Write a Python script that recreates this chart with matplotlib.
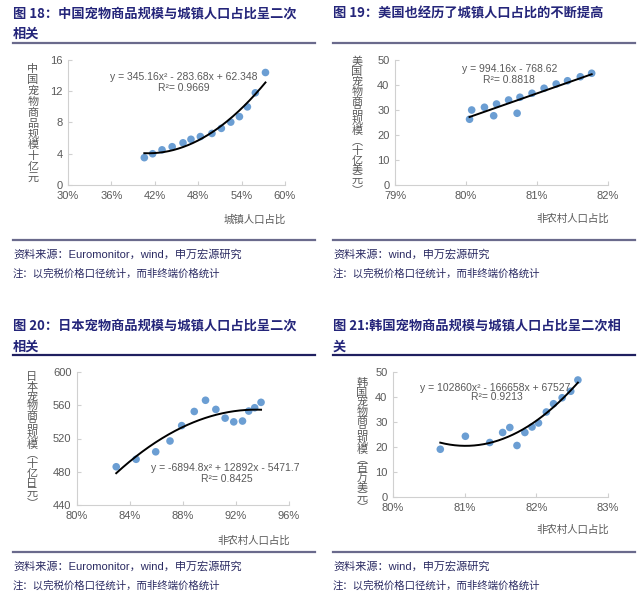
import numpy as np
import matplotlib
matplotlib.use("Agg")
import matplotlib.pyplot as plt

plt.rcParams["font.family"] = ["Liberation Sans", "Noto Sans CJK SC", "DejaVu Sans"]

# ---- data ----
cn_x = [40.55, 41.7, 43.0, 44.4, 45.9, 47.0, 48.3, 49.9, 51.2, 52.5, 53.7, 54.8, 55.9, 57.3]
cn_y = [3.5, 4.0, 4.5, 4.9, 5.4, 5.85, 6.2, 6.6, 7.25, 8.05, 8.75, 10.0, 11.8, 14.4]
cn_coef = [345.16, -283.68, 62.348]

us_x = [80.05, 80.08, 80.26, 80.39, 80.43, 80.60, 80.72, 80.76, 80.93, 81.10, 81.27, 81.43, 81.61, 81.77]
us_y = [26.3, 30.0, 31.1, 27.7, 32.4, 34.0, 28.7, 35.1, 36.7, 38.7, 40.4, 41.7, 43.3, 44.7]
us_coef = [994.16, -768.62]

jp_x = [82.96, 84.46, 85.94, 87.02, 87.9, 88.85, 89.70, 90.48, 91.18, 91.83, 92.49, 92.96, 93.41, 93.89]
jp_y = [486, 495, 504, 517, 535.5, 552.5, 566, 555, 544.5, 540, 541, 553, 557, 563.5]
jp_coef = [-6894.8, 12892, -5471.7]

kr_x = [80.66, 81.01, 81.35, 81.53, 81.63, 81.73, 81.84, 81.94, 82.03, 82.14, 82.24, 82.36, 82.48, 82.58]
kr_y = [19.1, 24.3, 21.8, 25.8, 27.8, 20.6, 25.8, 28.0, 29.6, 34.0, 37.3, 39.7, 42.3, 46.8]
kr_coef = [102860, -166658, 67527]

W, H = 640, 601
TITLE_C = "#24257a"
GRAY = "#595959"
DOT = "#6b9ed3"

fig = plt.figure(figsize=(W / 100, H / 100), dpi=100)


def px_axes(x0, x1, ytop, ybot):
    return fig.add_axes([x0 / W, 1 - ybot / H, (x1 - x0) / W, (ybot - ytop) / H])


def ftext(x, y, s, **kw):
    fig.text(x / W, 1 - y / H, s, **kw)


def hline(x0, x1, y, color):
    fig.add_artist(plt.Line2D([x0 / W, x1 / W], [1 - y / H, 1 - y / H],
                              color=color, lw=1.6, transform=fig.transFigure))


def stacked_label(x, y0, y1, s):
    # Chinese axis title written top-to-bottom, one character per row
    step = (y1 - y0) / (len(s) - 1)
    for i, ch in enumerate(s):
        ftext(x, y0 + i * step, ch, ha="center", va="center", fontsize=8,
              color=GRAY, family=["Noto Sans CJK SC"])


def panel(ax, xs, ys, coef, xlim, xticks, ylim, yticks, eq, r2, eq_pos, r2_pos):
    ax.scatter(xs, ys, s=30, color=DOT, edgecolors="none", zorder=2)
    xx = np.linspace(min(xs), max(xs), 200)
    ax.plot(xx, np.polyval(coef, xx / 100), color="black", lw=1.4, zorder=3)
    ax.set_xlim(*xlim)
    ax.set_ylim(*ylim)
    ax.set_xticks(xticks)
    ax.set_xticklabels([f"{t}%" for t in xticks])
    ax.set_yticks(yticks)
    for s in ["top", "right"]:
        ax.spines[s].set_visible(False)
    for s in ["left", "bottom"]:
        ax.spines[s].set_color("#d0d0d0")
        ax.spines[s].set_linewidth(0.8)
    ax.tick_params(direction="in", length=3, color="#d0d0d0",
                   labelsize=8, labelcolor=GRAY, pad=4)
    ax.text(eq_pos[0], eq_pos[1], eq, transform=ax.transAxes, ha="center",
            va="center", fontsize=7.5, color=GRAY)
    ax.text(r2_pos[0], r2_pos[1], r2, transform=ax.transAxes, ha="center",
            va="center", fontsize=7.5, color=GRAY)


# ---- panel 18 ----
ax1 = px_axes(68, 285, 60, 185)
panel(ax1, cn_x, cn_y, cn_coef, (30, 60), [30, 36, 42, 48, 54, 60], (0, 16), [0, 4, 8, 12, 16],
      "y = 345.16x² - 283.68x + 62.348", "R²= 0.9669", (0.532, 0.864), (0.535, 0.776))

# ---- panel 19 ----
ax2 = px_axes(395, 608, 60, 185)
panel(ax2, us_x, us_y, us_coef, (79, 82), [79, 80, 81, 82], (0, 50), [0, 10, 20, 30, 40, 50],
      "y = 994.16x - 768.62", "R²= 0.8818", (0.538, 0.926), (0.535, 0.84))

# ---- panel 20 ----
ax3 = px_axes(77, 289, 372, 505)
panel(ax3, jp_x, jp_y, jp_coef, (80, 96), [80, 84, 88, 92, 96], (440, 600), [440, 480, 520, 560, 600],
      "y = -6894.8x² + 12892x - 5471.7", "R²= 0.8425", (0.698, 0.28), (0.706, 0.193))

# ---- panel 21 ----
ax4 = px_axes(393, 608, 372, 497)
panel(ax4, kr_x, kr_y, kr_coef, (80, 83), [80, 81, 82, 83], (0, 50), [0, 10, 20, 30, 40, 50],
      "y = 102860x² - 166658x + 67527", "R²= 0.9213", (0.474, 0.874), (0.482, 0.798))

# ---- y labels, stacked characters ----
stacked_label(33, 69, 178, "中国宠物商品规模十亿元")
stacked_label(357, 62, 190, "美国宠物商品规模︵十亿美元︶")
stacked_label(32, 377, 503, "日本宠物商品规模︵十亿日元︶")
stacked_label(362, 383, 507, "韩国宠物商品规模︵百万美元︶")

# ---- x labels ----
xlab_kw = dict(ha="right", va="center", fontsize=7.5, color=GRAY, family=["Noto Sans CJK SC"])
ftext(286, 220, "城镇人口占比", **xlab_kw)
ftext(609, 219, "非农村人口占比", **xlab_kw)
ftext(290, 541, "非农村人口占比", **xlab_kw)
ftext(609, 530, "非农村人口占比", **xlab_kw)

# ---- titles ----
t_kw = dict(ha="left", va="center", fontsize=9.5, color=TITLE_C, fontweight="bold",
            family=["Noto Sans CJK SC", "DejaVu Sans"])
ftext(13, 14, "图 18：中国宠物商品规模与城镇人口占比呈二次", **t_kw)
ftext(13, 34, "相关", **t_kw)
ftext(333, 14, "图 19：美国也经历了城镇人口占比的不断提高", **t_kw)
ftext(13, 326, "图 20：日本宠物商品规模与城镇人口占比呈二次", **t_kw)
ftext(13, 347, "相关", **t_kw)
ftext(333, 326, "图 21:韩国宠物商品规模与城镇人口占比呈二次相", **t_kw)
ftext(333, 347, "关", **t_kw)

# ---- rules ----
hline(13, 315, 43, "#6a6a8c")
hline(333, 635, 43, "#6a6a8c")
hline(13, 315, 240, "#6a6a8c")
hline(333, 635, 240, "#6a6a8c")
hline(13, 315, 355, "#1f1f60")
hline(333, 635, 355, "#1f1f60")
hline(13, 315, 552, "#6a6a8c")
hline(333, 635, 552, "#6a6a8c")

# ---- sources / notes ----
src_kw = dict(ha="left", va="center", fontsize=8, color="#2a2a62")
note_kw = dict(ha="left", va="center", fontsize=7.5, color="#2a2a62")
note = "注：以完税价格口径统计，而非终端价格统计"
ftext(13, 254, "资料来源：Euromonitor，wind，申万宏源研究", **src_kw)
ftext(13, 274, note, **note_kw)
ftext(333, 254, "资料来源：wind，申万宏源研究", **src_kw)
ftext(333, 274, note, **note_kw)
ftext(13, 566, "资料来源：Euromonitor，wind，申万宏源研究", **src_kw)
ftext(13, 586, note, **note_kw)
ftext(333, 566, "资料来源：wind，申万宏源研究", **src_kw)
ftext(333, 586, note, **note_kw)

fig.savefig("out.png", dpi=100)
